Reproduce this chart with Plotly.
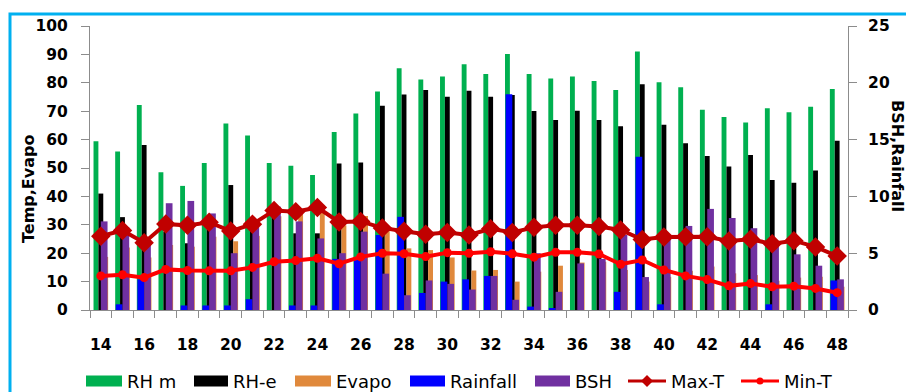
import plotly.graph_objects as go

# Standard meteorological weeks
weeks = list(range(14, 49))

# Primary axis (Temp, Evapo, RH)
rh_m = [59.4, 55.8, 72.2, 48.5, 43.7, 51.8, 65.7, 61.4, 51.8, 50.8, 47.5, 62.7,
        69.2, 76.9, 85.1, 81.2, 82.2, 86.5, 83.1, 90.1, 83.1, 81.5, 82.2, 80.6,
        77.5, 91.0, 80.2, 78.4, 70.5, 68.0, 66.0, 71.0, 69.6, 71.6, 77.8]
rh_e = [41.0, 32.7, 58.1, 27.6, 23.5, 30.0, 44.0, 30.5, 36.0, 27.0, 27.0, 51.6,
        51.9, 71.9, 75.9, 77.5, 75.1, 77.2, 75.1, 75.7, 70.1, 66.9, 70.2, 66.9,
        64.7, 79.5, 65.2, 58.7, 54.2, 50.5, 54.6, 45.8, 44.8, 49.1, 59.6]
evapo = [18.7, 22.0, 18.5, 22.9, 22.3, 25.8, 24.2, 26.1, 33.0, 34.6, 37.0, 29.8,
         33.1, 28.2, 21.7, 21.1, 18.5, 13.9, 14.1, 10.0, 13.5, 15.6, 16.7, 17.0,
         14.1, 10.0, 11.7, 13.8, 15.3, 12.9, 12.3, 10.3, 11.4, 11.7, 8.2]
max_t = [26.0, 28.0, 23.7, 30.3, 29.8, 30.9, 27.8, 30.2, 35.0, 34.6, 36.1, 31.0,
         31.2, 28.9, 27.7, 26.7, 27.3, 26.4, 28.6, 27.3, 29.1, 29.8, 29.8, 29.4,
         28.2, 24.8, 25.7, 25.8, 25.8, 24.3, 24.9, 23.3, 24.4, 22.2, 19.0]
min_t = [12.0, 12.4, 11.4, 14.3, 13.9, 13.8, 13.8, 15.0, 17.0, 17.4, 18.2, 16.3,
         18.7, 20.0, 19.8, 18.8, 20.2, 20.0, 20.5, 19.8, 18.6, 20.3, 20.3, 19.7,
         16.1, 17.6, 14.1, 12.0, 10.7, 8.5, 9.3, 8.2, 8.4, 7.6, 6.1]

# Secondary axis (BSH, Rainfall)
rainfall = [0.0, 0.5, 2.7, 0.0, 0.4, 0.4, 0.4, 0.95, 0.0, 0.4, 0.4, 4.5,
            4.4, 6.6, 8.2, 1.5, 2.5, 2.7, 3.0, 19.0, 0.3, 0.1, 0.0, 0.0,
            1.6, 13.5, 0.5, 0.0, 0.0, 0.0, 0.0, 0.5, 0.0, 0.0, 2.6]
bsh = [7.8, 7.3, 6.0, 9.4, 9.6, 8.5, 5.0, 7.5, 9.1, 7.8, 6.3, 5.0,
       6.9, 3.2, 1.3, 2.6, 2.3, 1.8, 3.0, 0.9, 5.0, 1.6, 4.1, 4.5,
       6.6, 2.9, 6.2, 7.4, 8.9, 8.1, 7.2, 6.0, 4.9, 3.9, 2.7]

y_left_ticks = list(range(0, 101, 10))
y_right_ticks = list(range(0, 26, 5))

C_RHM, C_RHE, C_EVA = "#00B050", "#000000", "#E0893C"
C_RAIN, C_BSH = "#0000FF", "#7030A0"
C_MAX, C_MIN = "#C00000", "#FF0000"
AX_GREY = "#8C8C8C"

FIG_W, FIG_H = 906, 392
ML, MR, MT, MB = 90, 58, 26, 82
PW = FIG_W - ML - MR
PH = FIG_H - MT - MB


def px_x(px):
    return (px - ML) / PW


def px_y(py):
    return (FIG_H - MB - py) / PH


cats = [str(w) for w in weeks]
fig = go.Figure()

# Clustered bars on the primary axis
pw = 0.225
for k, (name, vals, col) in enumerate([("RH m", rh_m, C_RHM), ("RH-e", rh_e, C_RHE),
                                       ("Evapo", evapo, C_EVA)]):
    fig.add_trace(go.Bar(x=cats, y=vals, name=name, yaxis="y",
                         marker=dict(color=col, line=dict(width=0)),
                         width=pw, offset=-1.5 * pw + k * pw, showlegend=False))

# Clustered bars on the secondary axis (drawn over the primary cluster)
sw = 0.31
for k, (name, vals, col) in enumerate([("Rainfall", rainfall, C_RAIN), ("BSH", bsh, C_BSH)]):
    fig.add_trace(go.Bar(x=cats, y=vals, name=name, yaxis="y2",
                         marker=dict(color=col, line=dict(width=0)),
                         width=sw, offset=-sw + k * sw, showlegend=False))

# Temperature lines on top
fig.add_trace(go.Scatter(x=cats, y=max_t, name="Max-T", yaxis="y3", mode="lines+markers",
                         line=dict(color=C_MAX, width=4),
                         marker=dict(symbol="diamond", size=15, color=C_MAX),
                         showlegend=False))
fig.add_trace(go.Scatter(x=cats, y=min_t, name="Min-T", yaxis="y3", mode="lines+markers",
                         line=dict(color=C_MIN, width=4),
                         marker=dict(symbol="circle", size=9, color=C_MIN),
                         showlegend=False))

tick_font = dict(family="DejaVu Sans", size=15.5, color="black", weight="bold")

fig.update_layout(
    width=FIG_W, height=FIG_H,
    margin=dict(l=ML, r=MR, t=MT, b=MB, pad=0),
    paper_bgcolor="white", plot_bgcolor="white",
    barmode="overlay", showlegend=False,
    xaxis=dict(type="category", range=[-0.5, len(cats) - 0.5],
               tickmode="array", tickvals=cats,
               ticktext=[c if int(c) % 2 == 0 else "" for c in cats],
               tickangle=0,
               tickson="boundaries", ticks="outside", ticklen=7, tickcolor=AX_GREY,
               showline=True, linecolor=AX_GREY, linewidth=1, showgrid=False,
               tickfont=tick_font, ticklabelstandoff=20, automargin=False),
    yaxis=dict(range=[0, 100], tickmode="array", tickvals=y_left_ticks,
               ticks="outside", ticklen=8, tickcolor=AX_GREY,
               showline=True, linecolor=AX_GREY, linewidth=1,
               showgrid=False, zeroline=False, tickfont=tick_font,
               ticklabelstandoff=10, automargin=False),
    yaxis2=dict(range=[0, 25], overlaying="y", side="right",
                tickmode="array", tickvals=y_right_ticks,
                ticks="outside", ticklen=8, tickcolor=AX_GREY,
                showline=True, linecolor=AX_GREY, linewidth=1,
                showgrid=False, zeroline=False, tickfont=tick_font,
                ticklabelstandoff=8, automargin=False),
    yaxis3=dict(range=[0, 100], overlaying="y", visible=False),
)

shapes = []
annotations = []

# Chart frame
shapes.append(dict(type="rect", xref="paper", yref="paper",
                   x0=px_x(10), x1=px_x(FIG_W + 20), y0=px_y(FIG_H + 20), y1=px_y(14),
                   line=dict(color="#00B0F0", width=3), fillcolor="rgba(0,0,0,0)",
                   layer="below"))

# Axis titles
annotations.append(dict(text="Temp,Evapo", xref="paper", yref="paper",
                        x=px_x(28), y=px_y(189), textangle=-90, showarrow=False,
                        xanchor="center", yanchor="middle",
                        font=dict(family="DejaVu Sans", size=16, color="black", weight="bold")))
annotations.append(dict(text="BSH,Rainfall", xref="paper", yref="paper",
                        x=px_x(897), y=px_y(156), textangle=90, showarrow=False,
                        xanchor="center", yanchor="middle",
                        font=dict(family="DejaVu Sans", size=16, color="black", weight="bold")))

# Legend row
leg_y = 381
leg_font = dict(family="DejaVu Sans", size=18, color="black")
box_items = [("RH m", C_RHM, 86, 122), ("RH-e", C_RHE, 194, 228),
             ("Evapo", C_EVA, 295, 331), ("Rainfall", C_RAIN, 410, 445),
             ("BSH", C_BSH, 535, 570)]
for label, col, x0, x1 in box_items:
    shapes.append(dict(type="rect", xref="paper", yref="paper",
                       x0=px_x(x0), x1=px_x(x1), y0=px_y(leg_y + 5.5), y1=px_y(leg_y - 5.5),
                       line=dict(width=0), fillcolor=col))
    annotations.append(dict(text=label, xref="paper", yref="paper",
                            x=px_x(x1 + 3), y=px_y(leg_y), xanchor="left", yanchor="middle",
                            showarrow=False, font=leg_font))

line_items = [("Max-T", C_MAX, 628, 666, "diamond"), ("Min-T", C_MIN, 741, 779, "circle")]
for label, col, x0, x1, sym in line_items:
    shapes.append(dict(type="line", xref="paper", yref="paper",
                       x0=px_x(x0), x1=px_x(x1), y0=px_y(leg_y), y1=px_y(leg_y),
                       line=dict(color=col, width=3)))
    cx = (x0 + x1) / 2
    if sym == "diamond":
        d = 6
        path = (f"M {px_x(cx - d)},{px_y(leg_y)} L {px_x(cx)},{px_y(leg_y - d)} "
                f"L {px_x(cx + d)},{px_y(leg_y)} L {px_x(cx)},{px_y(leg_y + d)} Z")
        shapes.append(dict(type="path", xref="paper", yref="paper", path=path,
                           fillcolor=col, line=dict(width=0)))
    else:
        r = 3.5
        shapes.append(dict(type="circle", xref="paper", yref="paper",
                           x0=px_x(cx - r), x1=px_x(cx + r),
                           y0=px_y(leg_y + r), y1=px_y(leg_y - r),
                           fillcolor=col, line=dict(width=0)))
    annotations.append(dict(text=label, xref="paper", yref="paper",
                            x=px_x(x1 + 3), y=px_y(leg_y), xanchor="left", yanchor="middle",
                            showarrow=False, font=leg_font))

fig.update_layout(shapes=shapes, annotations=annotations)
fig.write_html("out.html")
